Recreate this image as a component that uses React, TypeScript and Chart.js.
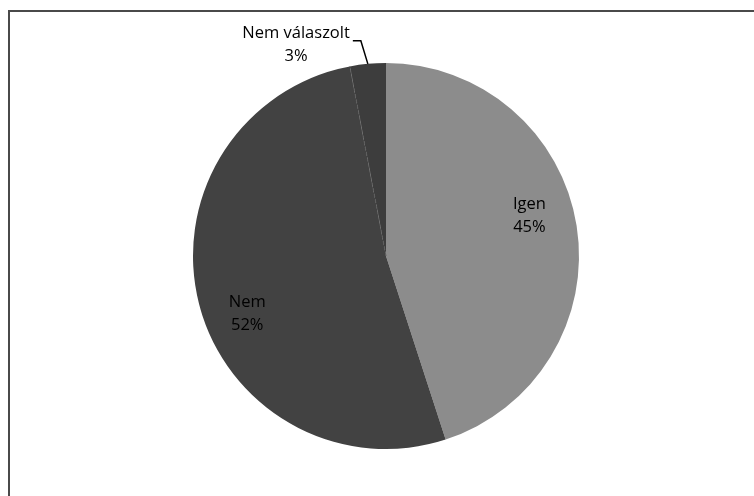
import React, { useEffect, useRef } from "react";
import { Chart, registerables } from "chart.js";

Chart.register(...registerables);

const categories = ["Igen", "Nem", "Nem válaszolt"];
const values = [45, 52, 3];
const percentLabels = ["45%", "52%", "3%"];
const colors = ["#8c8c8c", "#424242", "#3d3d3d"];

const FONT = "16.5px 'Open Sans'";

const framePlugin = {
  id: "frame",
  beforeDraw(chart: any) {
    const ctx = chart.ctx;
    ctx.save();
    ctx.fillStyle = "#ffffff";
    ctx.fillRect(0, 0, chart.width, chart.height);
    ctx.fillStyle = "#4a4a4a";
    ctx.fillRect(8, 10, 2, chart.height - 10);
    ctx.fillRect(8, 10, chart.width - 8, 2);
    ctx.restore();
  },
};

const labelPlugin = {
  id: "pieLabels",
  afterDatasetsDraw(chart: any) {
    const ctx = chart.ctx;
    const meta = chart.getDatasetMeta(0);
    ctx.save();
    // dashed separator between Nem and Nem válaszolt
    const sep = meta.data[2];
    if (sep) {
      const a = sep.startAngle;
      ctx.strokeStyle = "#5e5e5e";
      ctx.lineWidth = 1;
      ctx.setLineDash([3, 3]);
      ctx.beginPath();
      ctx.moveTo(sep.x, sep.y);
      ctx.lineTo(sep.x + Math.cos(a) * sep.outerRadius, sep.y + Math.sin(a) * sep.outerRadius);
      ctx.stroke();
      ctx.setLineDash([]);
    }
    ctx.font = FONT;
    ctx.fillStyle = "#000000";
    ctx.textAlign = "center";
    ctx.textBaseline = "alphabetic";
    meta.data.forEach((arc: any, i: number) => {
      const mid = (arc.startAngle + arc.endAngle) / 2;
      const R = arc.outerRadius;
      if (values[i] >= 10) {
        const ang = mid - (7.5 * Math.PI) / 180;
        const cx = arc.x + Math.cos(ang) * R * 0.775;
        const cy = arc.y + Math.sin(ang) * R * 0.775;
        ctx.fillText(categories[i], cx, cy - 5);
        ctx.fillText(percentLabels[i], cx, cy + 18);
      } else {
        const px = arc.x + Math.cos(mid) * R;
        const py = arc.y + Math.sin(mid) * R;
        const ex = px - 7;
        const ey = py - 23;
        const hx = ex - 8;
        ctx.strokeStyle = "#000000";
        ctx.lineWidth = 1.5;
        ctx.beginPath();
        ctx.moveTo(px, py);
        ctx.lineTo(ex, ey);
        ctx.lineTo(hx, ey);
        ctx.stroke();
        const w = ctx.measureText(categories[i]).width;
        const tx = hx - 3 - w / 2;
        ctx.fillText(categories[i], tx, ey - 3);
        ctx.fillText(percentLabels[i], tx, ey + 20);
      }
    });
    ctx.restore();
  },
};

export default function App() {
  const ref = useRef<HTMLCanvasElement | null>(null);
  useEffect(() => {
    if (!ref.current) return;
    const chart = new Chart(ref.current, {
      type: "pie",
      data: {
        labels: categories,
        datasets: [
          {
            data: values,
            backgroundColor: colors,
            borderWidth: 0,
          },
        ],
      },
      options: {
        responsive: false,
        animation: false,
        layout: { padding: { top: 63, bottom: 47, left: 193, right: 175 } },
        plugins: {
          legend: { display: false },
          tooltip: { enabled: false },
          title: { display: false },
        },
      },
      plugins: [framePlugin, labelPlugin],
    });
    return () => chart.destroy();
  }, []);
  return (
    <div style={{ position: "fixed", left: 0, top: 0, width: 754, height: 496 }}>
      <canvas ref={ref} width={754} height={496} style={{ display: "block" }} />
    </div>
  );
}
